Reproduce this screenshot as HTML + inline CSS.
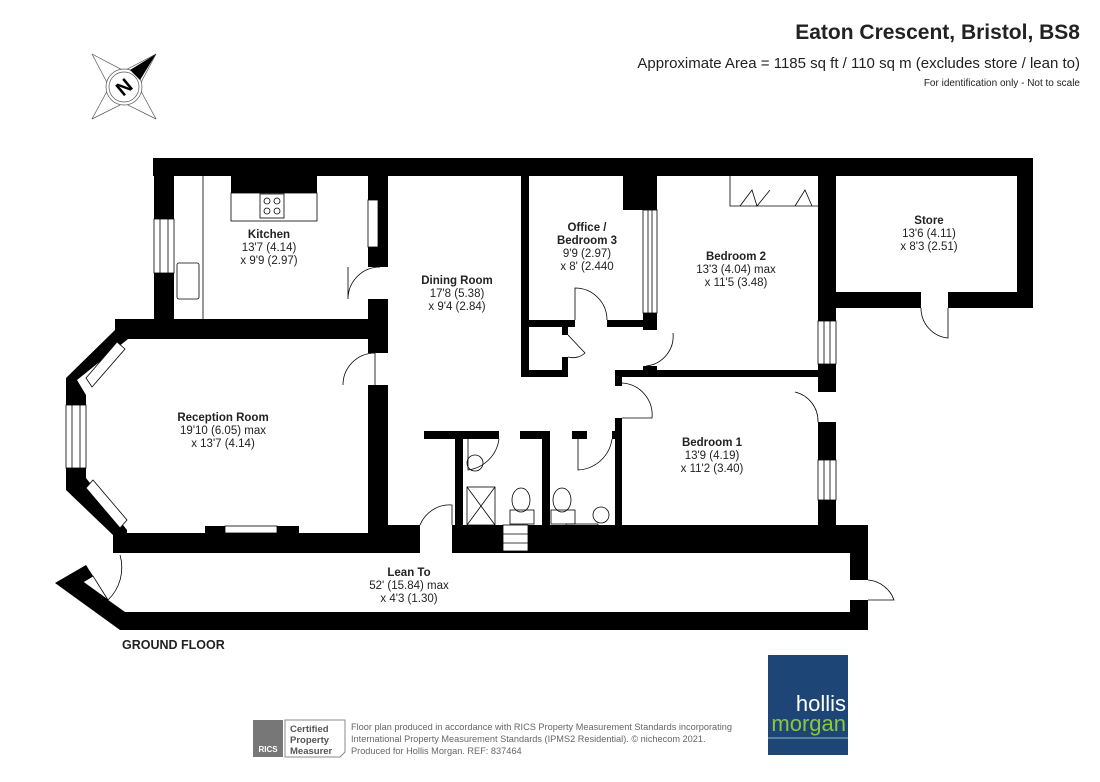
<!DOCTYPE html>
<html><head><meta charset="utf-8"><style>
body{margin:0;background:#fff;width:1100px;height:777px;overflow:hidden;font-family:"Liberation Sans",Arial,sans-serif}
</style></head><body>
<svg width="1100" height="777" viewBox="0 0 1100 777" xmlns="http://www.w3.org/2000/svg" font-family="Liberation Sans, Arial, sans-serif">
<rect width="1100" height="777" fill="#fff"/>
<!-- header -->
<text x="1080" y="39" text-anchor="end" font-size="21" font-weight="bold" fill="#222">Eaton Crescent, Bristol, BS8</text>
<text x="1080" y="68" text-anchor="end" font-size="15" fill="#222">Approximate Area = 1185 sq ft / 110 sq m (excludes store / lean to)</text>
<text x="1080" y="86" text-anchor="end" font-size="10" fill="#222">For identification only - Not to scale</text>
<!-- compass -->
<g stroke="#555" stroke-width="0.7" fill="none">
<line x1="92" y1="54" x2="130" y2="74"/><line x1="92" y1="54" x2="112" y2="92"/>
<line x1="92" y1="119" x2="112" y2="82"/><line x1="92" y1="119" x2="130" y2="100"/>
<line x1="156" y1="119" x2="136" y2="82"/><line x1="156" y1="119" x2="118" y2="100"/>
<line x1="156" y1="54" x2="118" y2="74"/><line x1="156" y1="54" x2="136" y2="92"/>
<circle cx="124" cy="87" r="18" fill="#fff"/><circle cx="124" cy="87" r="15"/>
</g>
<polygon points="156,54 130,70 140,80" fill="#000"/>
<text x="124" y="94" text-anchor="middle" font-size="20" font-weight="bold" transform="rotate(-40 124 87)">N</text>

<!-- walls -->
<g fill="#000">
<rect x="153" y="158" width="880" height="18"/>
<rect x="154" y="158" width="20" height="161"/>
<rect x="231" y="176" width="86" height="17"/>
<rect x="368" y="158" width="20" height="109"/>
<rect x="368" y="299" width="20" height="54"/>
<rect x="115" y="319" width="273" height="20"/>
<rect x="368" y="385" width="20" height="168"/>
<polygon points="115,319 128,319 128,339 77,380 86,395 66,395 66,378 115,330"/>
<rect x="66" y="395" width="20" height="10"/>
<rect x="66" y="468" width="20" height="12"/>
<polygon points="66,478 86,478 127,530 127,553 113,553 113,535 66,490"/>
<rect x="113" y="533" width="307" height="20"/>
<rect x="205" y="526" width="20" height="8"/><rect x="277" y="526" width="22" height="8"/>
<rect x="388" y="525" width="32" height="28"/>
<rect x="452" y="525" width="416" height="28"/>
<!-- office -->
<rect x="521" y="176" width="8" height="201"/>
<rect x="521" y="370" width="47" height="7"/>
<rect x="562" y="327" width="6" height="8"/>
<rect x="562" y="357" width="6" height="20"/>
<rect x="521" y="320" width="54" height="7"/>
<rect x="607" y="320" width="36" height="7"/>
<rect x="623" y="176" width="34" height="34"/>
<rect x="643" y="313" width="14" height="17"/>
<rect x="643" y="366" width="14" height="11"/>
<rect x="615" y="370" width="221" height="7"/>
<rect x="615" y="370" width="7" height="16"/>
<rect x="615" y="418" width="7" height="135"/>
<rect x="818" y="176" width="18" height="145"/>
<rect x="818" y="364" width="18" height="28"/>
<rect x="818" y="422" width="18" height="38"/>
<rect x="818" y="500" width="18" height="53"/>
<!-- store -->
<rect x="1017" y="158" width="16" height="150"/>
<rect x="836" y="292" width="85" height="16"/>
<rect x="948" y="292" width="85" height="16"/>
<!-- bathrooms -->
<rect x="424" y="431" width="75" height="8"/>
<rect x="455" y="431" width="8" height="100"/>
<rect x="520" y="431" width="29" height="8"/>
<rect x="542" y="431" width="8" height="100"/>
<rect x="572" y="431" width="15" height="8"/>
<rect x="612" y="431" width="10" height="8"/>
<!-- lean to -->
<rect x="125" y="612" width="743" height="18"/>
<rect x="850" y="553" width="18" height="27"/>
<rect x="850" y="600" width="18" height="30"/>
<polygon points="55,583 86,565 93,576 83,582 125,612 125,630 120,630"/>
</g>
<!-- windows / fittings -->
<g fill="none" stroke="#000" stroke-width="0.8">
<polygon points="83,582 93,576 108,600"/>
<rect x="154" y="219" width="20" height="54" fill="#fff"/><line x1="160" y1="219" x2="160" y2="273"/><line x1="168" y1="219" x2="168" y2="273"/>
<line x1="203" y1="176" x2="203" y2="319"/>
<rect x="231" y="193" width="86" height="28"/>
<rect x="260" y="194" width="24" height="24"/><circle cx="267" cy="201" r="3"/><circle cx="277" cy="201" r="3"/><circle cx="267" cy="211" r="3"/><circle cx="277" cy="211" r="3"/>
<rect x="177" y="263" width="22" height="36" rx="2"/>
<rect x="368" y="200" width="10" height="47" fill="#fff"/>
<rect x="66" y="405" width="20" height="63" fill="#fff"/><line x1="72" y1="405" x2="72" y2="468"/><line x1="80" y1="405" x2="80" y2="468"/>
<polygon points="86,378 117,342 125,349 92,387" fill="#fff"/>
<polygon points="86,488 93,480 127,520 120,528" fill="#fff"/>
<rect x="225" y="526" width="52" height="7" fill="#fff"/>
<!-- doors -->
<path d="M348,267 L348,299 A32,32 0 0 1 380,267"/>
<path d="M343,385 A32,32 0 0 1 375,353 L375,385"/>
<path d="M420,525 A32,32 0 0 1 452,505 L452,525"/>
<path d="M120,555 A45,45 0 0 1 108,600"/>
<path d="M575,320 L575,288 A32,32 0 0 1 607,320"/>
<path d="M673,333 A30,30 0 0 1 646,366"/>
<path d="M622,383 A32,32 0 0 1 652,418 L622,418"/>
<path d="M568,335 L585,353 A18,18 0 0 1 568,357"/>
<path d="M795,392 A30,30 0 0 1 818,422"/>
<path d="M921,308 A30,30 0 0 0 948,338 L948,308"/>
<path d="M868,580 A30,30 0 0 1 894,600 L868,600"/>
<path d="M499,439 A36,36 0 0 1 468,470 L468,439"/>
<path d="M612,439 A36,36 0 0 1 578,470 L578,439"/>
<rect x="643" y="210" width="14" height="103" fill="#fff"/><line x1="648" y1="210" x2="648" y2="313"/><line x1="652" y1="210" x2="652" y2="313"/>
<rect x="818" y="321" width="18" height="43" fill="#fff"/><line x1="824" y1="321" x2="824" y2="364"/><line x1="830" y1="321" x2="830" y2="364"/>
<rect x="818" y="460" width="18" height="40" fill="#fff"/><line x1="824" y1="460" x2="824" y2="500"/><line x1="830" y1="460" x2="830" y2="500"/>
<path d="M730,176 L730,206 L818,206 M740,206 L752,190 L757,206 L770,190 M795,206 L805,190 L812,206"/>
<rect x="467" y="487" width="28" height="38"/><line x1="467" y1="487" x2="495" y2="525"/><line x1="495" y1="487" x2="467" y2="525"/>
<circle cx="475" cy="463" r="8"/>
<ellipse cx="521" cy="500" rx="9" ry="12"/><rect x="510" y="510" width="24" height="14"/>
<ellipse cx="562" cy="500" rx="9" ry="12"/><rect x="551" y="510" width="24" height="14"/>
<rect x="566" y="524" width="32" height="14"/><circle cx="601" cy="515" r="8"/>
<rect x="503" y="525" width="25" height="26" fill="#fff"/><line x1="503" y1="534" x2="528" y2="534"/><line x1="503" y1="543" x2="528" y2="543"/>
</g>
<!-- labels -->
<g font-size="11.5" fill="#222" text-anchor="middle">
<text x="269" y="238" font-weight="bold">Kitchen</text><text x="269" y="251">13'7 (4.14)</text><text x="269" y="264">x 9'9 (2.97)</text>
<text x="457" y="284" font-weight="bold">Dining Room</text><text x="457" y="297">17'8 (5.38)</text><text x="457" y="310">x 9'4 (2.84)</text>
<text x="223" y="421" font-weight="bold">Reception Room</text><text x="223" y="434">19'10 (6.05) max</text><text x="223" y="447">x 13'7 (4.14)</text>
<text x="587" y="231" font-weight="bold">Office /</text><text x="587" y="244" font-weight="bold">Bedroom 3</text><text x="587" y="257">9'9 (2.97)</text><text x="587" y="270">x 8' (2.440</text>
<text x="736" y="260" font-weight="bold">Bedroom 2</text><text x="736" y="273">13'3 (4.04) max</text><text x="736" y="286">x 11'5 (3.48)</text>
<text x="929" y="224" font-weight="bold">Store</text><text x="929" y="237">13'6 (4.11)</text><text x="929" y="250">x 8'3 (2.51)</text>
<text x="712" y="446" font-weight="bold">Bedroom 1</text><text x="712" y="459">13'9 (4.19)</text><text x="712" y="472">x 11'2 (3.40)</text>
<text x="409" y="576" font-weight="bold">Lean To</text><text x="409" y="589">52' (15.84) max</text><text x="409" y="602">x 4'3 (1.30)</text>
</g>
<text x="122" y="649" font-size="12.5" font-weight="bold" fill="#222">GROUND FLOOR</text>
<!-- footer -->
<rect x="253" y="720" width="30" height="37" fill="#777"/>
<text x="268" y="752" text-anchor="middle" font-size="8" font-weight="bold" fill="#fff">RICS</text>
<path d="M285,720 L345,720 L345,752 L340,757 L285,757 Z" fill="none" stroke="#888" stroke-width="1"/>
<g font-size="9.5" font-weight="bold" fill="#555"><text x="290" y="732">Certified</text><text x="290" y="743">Property</text><text x="290" y="754">Measurer</text></g>
<g font-size="9.2" fill="#666"><text x="351" y="730">Floor plan produced in accordance with RICS Property Measurement Standards incorporating</text><text x="351" y="742">International Property Measurement Standards (IPMS2 Residential).   © nichecom 2021.</text><text x="351" y="754">Produced for Hollis Morgan.   REF:  837464</text></g>
<rect x="768" y="655" width="80" height="100" fill="#1d4677"/>
<line x1="768" y1="738" x2="848" y2="738" stroke="#9bb" stroke-width="1"/>
<text x="846" y="711" text-anchor="end" font-size="22" fill="#fff">hollis</text>
<text x="846" y="731" text-anchor="end" font-size="22" fill="#8dc63f">morgan</text>
</svg>
</body></html>
